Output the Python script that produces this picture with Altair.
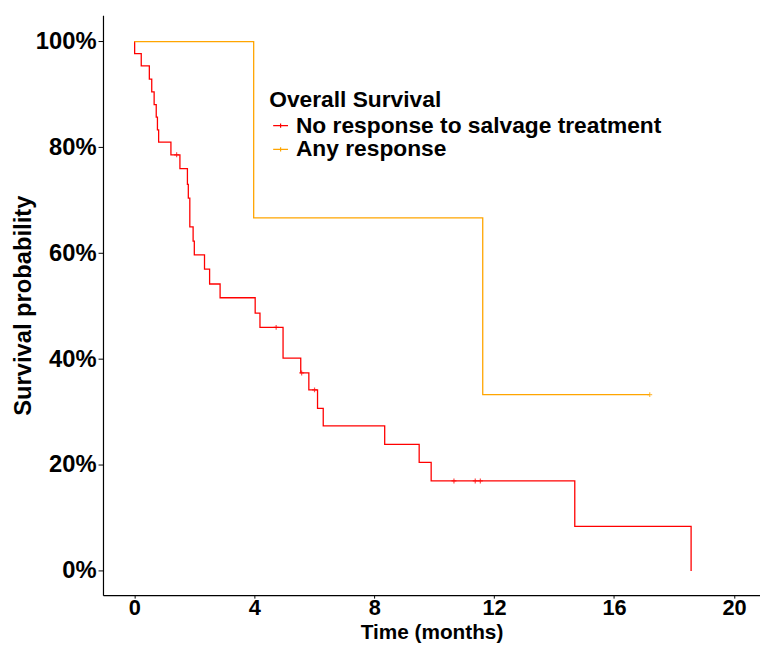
import altair as alt
import pandas as pd

# Kaplan-Meier steps (time in months, survival fraction)
groups = ["No response to salvage treatment", "Any response"]
colors = ["#FF0000", "#FFA500"]

red_time = [0, 0.01, 0.23, 0.50, 0.58, 0.66, 0.73, 0.77, 0.81, 1.22, 1.52, 1.77,
            1.80, 1.85, 1.96, 2.00, 2.34, 2.51, 2.86, 4.03, 4.19, 4.96, 5.55, 5.82,
            6.11, 6.30, 8.35, 9.50, 9.90, 14.69, 18.57]
red_surv = [1.0, 0.977, 0.954, 0.929, 0.905, 0.881, 0.857, 0.833, 0.810, 0.786,
            0.760, 0.730, 0.704, 0.650, 0.623, 0.597, 0.570, 0.542, 0.516, 0.487,
            0.460, 0.402, 0.374, 0.342, 0.307, 0.274, 0.239, 0.205, 0.170, 0.084, 0.0]

orange_time = [0, 3.98, 11.62, 17.19]
orange_surv = [1.0, 0.667, 0.333, 0.333]

red_cens_time = [1.41, 4.73, 5.58, 6.01, 10.66, 11.37, 11.54]
red_cens_surv = [0.786, 0.460, 0.374, 0.342, 0.170, 0.170, 0.170]
orange_cens_time = [17.19]
orange_cens_surv = [0.333]

x_ticks = [0, 4, 8, 12, 16, 20]
y_ticks = [0, 0.2, 0.4, 0.6, 0.8, 1.0]

lines = pd.concat([
    pd.DataFrame({"time": red_time, "surv": red_surv, "group": groups[0]}),
    pd.DataFrame({"time": orange_time, "surv": orange_surv, "group": groups[1]}),
])
cens = pd.concat([
    pd.DataFrame({"time": red_cens_time, "surv": red_cens_surv, "group": groups[0]}),
    pd.DataFrame({"time": orange_cens_time, "surv": orange_cens_surv, "group": groups[1]}),
])

FONT = "Liberation Sans"

xscale = alt.Scale(domain=[-1.046, 20.868], nice=False, zero=False)
yscale = alt.Scale(domain=[-0.0458, 1.0495], nice=False, zero=False)
cscale = alt.Scale(domain=groups, range=colors)

x_enc = alt.X("time:Q", scale=xscale,
              axis=alt.Axis(values=x_ticks, title="Time (months)", format="d",
                            labelFontSize=22, labelPadding=0, titleFontSize=21,
                            titlePadding=2.6, tickSize=3))
y_enc = alt.Y("surv:Q", scale=yscale,
              axis=alt.Axis(values=y_ticks, title="Survival probability", format=".0%",
                            labelFontSize=24, labelPadding=2, titleFontSize=24,
                            titlePadding=0, tickSize=5))

line_layer = alt.Chart(lines).mark_line(interpolate="step-after", strokeWidth=1.3).encode(
    x=x_enc, y=y_enc,
    color=alt.Color("group:N", scale=cscale, sort=groups,
                    legend=alt.Legend(
                        title="Overall Survival",
                        orient="none", legendX=168, legendY=75,
                        padding=0, titlePadding=2, rowPadding=0,
                        symbolType="M-1,0L1,0M0,-0.3L0,0.3",
                        symbolSize=225, symbolStrokeWidth=1.2,
                        labelFont=FONT, labelFontSize=23, labelFontWeight="bold",
                        labelColor="black", labelOffset=4, labelLimit=0,
                        titleFont=FONT, titleFontSize=23, titleFontWeight="bold",
                        titleColor="black", titleLimit=0)),
)

cens_layer = alt.Chart(cens).mark_point(shape="M-1,0L1,0M0,-1L0,1", size=25,
                                        filled=False, strokeWidth=1.2).encode(
    x="time:Q", y="surv:Q",
    color=alt.Color("group:N", scale=cscale, legend=None),
)

chart = alt.layer(line_layer, cens_layer).properties(
    width=664, height=586,
    autosize=alt.AutoSizeParams(type="none"),
    padding={"left": 96, "top": 4, "right": 0, "bottom": 49},
    background="white",
).configure_view(stroke=None).configure_axis(
    grid=False,
    domainColor="black", domainWidth=1.2,
    tickColor="black", tickWidth=1,
    labelFont=FONT, labelFontWeight="bold", labelColor="black",
    titleFont=FONT, titleFontWeight="bold", titleColor="black",
)

chart.save("out.html", embed_options={"renderer": "svg", "actions": False})
